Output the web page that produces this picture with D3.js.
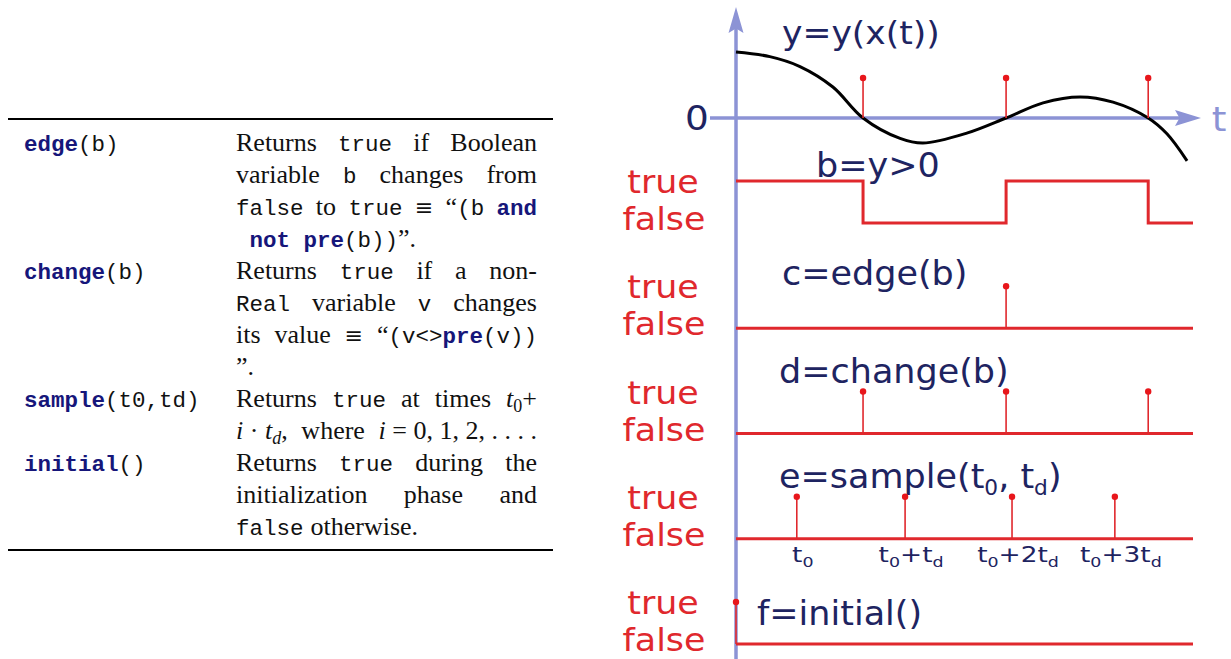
<!DOCTYPE html>
<html>
<head>
<meta charset="utf-8">
<script src="https://cdn.jsdelivr.net/npm/d3@7"></script>
<style>
  body { margin: 0; background: #fff; }
  svg text { white-space: pre; }
</style>
</head>
<body>
<svg id="chart" width="1231" height="659"></svg>
<script>
// ---- data: left table ----
const fnNames = ['@edge@|(b)|', '@change@|(b)|', '@sample@|(t0,td)|', '@initial@|()|'];
const rowFirstLine = [0, 4, 8, 10];
// markup: @kw@  |tt|  $italic$  #symbol#  _x upright sub  %x italic sub  ~ fixed space
const descLines = [
  { text: 'Returns |true| if Boolean', justify: true },
  { text: 'variable |b| changes from', justify: true },
  { text: '|false| to |true| #≡# “|(b| @and@', justify: true },
  { text: '@~not~pre@|(b))|”.', justify: false },
  { text: 'Returns |true| if a non-', justify: true },
  { text: '|Real| variable |v| changes', justify: true },
  { text: 'its value #≡# “|(v<>|@pre@|(v))|', justify: true },
  { text: '”.', justify: false },
  { text: 'Returns |true| at times $t$_0+', justify: true },
  { text: '$i$~·~$t$%d, where $i$~=~0,~1,~2,~.~.~.~.', justify: true },
  { text: 'Returns |true| during the', justify: true },
  { text: 'initialization phase and', justify: true },
  { text: '|false| otherwise.', justify: false },
];

// ---- data: right figure (time runs 0..10) ----
const curveT = [0, 0.74, 1.40, 2.12, 2.78, 3.59, 4.09, 5.05, 5.91, 6.72, 7.53, 8.25, 9.02, 9.43, 9.87];
const curveY = [1.00, 0.93, 0.78, 0.47, 0, -0.31, -0.38, -0.23, 0, 0.23, 0.32, 0.24, 0, -0.24, -0.65];
const crossT = [2.78, 5.91, 9.02];
const bT = [0, 2.78, 5.91, 9.02, 10];
const bV = [1, 0, 1, 0, 0];
const rowNames = ['b', 'c', 'd', 'e', 'f'];
const rowLabels = ['b=y>0', 'c=edge(b)', 'd=change(b)', 'e=sample(t_0, t_d)', 'f=initial()'];
const rowEvents = [[], [5.91], [2.78, 5.91, 9.02], [1.33, 3.70, 6.04, 8.29], [0]];
const sampleT = [1.33, 3.70, 6.04, 8.29];
const sampleLabels = ['t_0', 't_0+t_d', 't_0+2t_d', 't_0+3t_d'];

// ---- styles / layout ----
const navy = '#1e2461';
const red = '#e0282d';
const dotRed = '#e8161b';
const axisBlue = '#8c93d5';
const labelPos = [[816, -4], [782, -1], [779, -9], [779, -9], [757, 23]]; // x, baseline offset from true level

const svg = d3.select('#chart');

/** Left table */
const colLeft = 236;
const colRight = 537;
const fonts = {
  rm: { family: 'Liberation Serif', size: 26, weight: 'normal', style: 'normal', fill: '#111', dy: 0 },
  it: { family: 'Liberation Serif', size: 26, weight: 'normal', style: 'italic', fill: '#111', dy: 0 },
  sym: { family: 'DejaVu Serif', size: 22, weight: 'normal', style: 'normal', fill: '#111', dy: 0 },
  tt: { family: 'Liberation Mono', size: 22.5, weight: 'normal', style: 'normal', fill: '#111', dy: 0 },
  kw: { family: 'Liberation Mono', size: 22.5, weight: 'bold', style: 'normal', fill: '#16167a', dy: 0 },
  sub: { family: 'Liberation Serif', size: 18, weight: 'normal', style: 'normal', fill: '#111', dy: 5 },
  subit: { family: 'Liberation Serif', size: 18, weight: 'normal', style: 'italic', fill: '#111', dy: 5 },
};

const parseWord = (w) => {
  const runs = [];
  const re = /@([^@]*)@|\|([^|]*)\||\$([^$]*)\$|#([^#]*)#|_(.)|%(.)|([^@|$#_%]+)/g;
  let m = re.exec(w);
  while (m !== null) {
    if (m[1] !== undefined) runs.push([m[1], 'kw']);
    else if (m[2] !== undefined) runs.push([m[2], 'tt']);
    else if (m[3] !== undefined) runs.push([m[3], 'it']);
    else if (m[4] !== undefined) runs.push([m[4], 'sym']);
    else if (m[5] !== undefined) runs.push([m[5], 'sub']);
    else if (m[6] !== undefined) runs.push([m[6], 'subit']);
    else runs.push([m[7], 'rm']);
    m = re.exec(w);
  }
  return runs.map(([s, f]) => [s.replace(/~/g, '\u00a0'), f]);
};

const table = svg.append('g').attr('class', 'table');

// places a list of words on one baseline
const placeWords = (words, y, x0, gapFn) => {
  const g = table.append('g');
  const nodes = words.map((runs) => runs.map(([s, f]) => {
    const st = fonts[f];
    const el = g.append('text')
      .attr('y', y + st.dy)
      .attr('font-family', st.family)
      .attr('font-size', st.size)
      .attr('font-weight', st.weight)
      .attr('font-style', st.style)
      .attr('fill', st.fill)
      .text(s);
    return { el, w: el.node().getComputedTextLength() };
  }));
  const wordW = nodes.map((rs) => d3.sum(rs, (r) => r.w));
  const gap = gapFn(d3.sum(wordW), words.length);
  let x = x0;
  nodes.forEach((rs) => {
    rs.forEach((r) => { r.el.attr('x', x); x += r.w; });
    x += gap;
  });
};

const lineY = (i) => 150.5 + i * 32;

descLines.forEach((line, i) => {
  const words = line.text.split(' ').map(parseWord);
  placeWords(words, lineY(i), colLeft, (total, n) => (
    line.justify && n > 1 ? (colRight - colLeft - total) / (n - 1) : 7
  ));
});

fnNames.forEach((name, i) => {
  placeWords([parseWord(name)], lineY(rowFirstLine[i]), 24, () => 0);
});

table.selectAll('line.rule')
  .data([119, 550])
  .enter()
  .append('line')
  .attr('class', 'rule')
  .attr('x1', 8)
  .attr('x2', 553)
  .attr('y1', (d) => d)
  .attr('y2', (d) => d)
  .attr('stroke', '#000')
  .attr('stroke-width', 2);

/** Right figure */
const x = d3.scaleLinear().domain([0, 10]).range([736, 1193]);
const yCurve = d3.scaleLinear().domain([-1, 1]).range([184, 52]);
const row = d3.scalePoint().domain(rowNames).range([223, 644]);
const level = d3.scaleLinear().domain([0, 1]).range([0, -42]);

const fig = svg.append('g').attr('class', 'fig');

// text with '_x' one-character subscripts
const drawLabel = (g, str, px, py, opts) => {
  const t = g.append('text')
    .attr('transform', `translate(${px},${py}) scale(${opts.sx || 1},1)`)
    .attr('font-family', 'DejaVu Sans')
    .attr('font-size', opts.size)
    .attr('fill', opts.color)
    .attr('text-anchor', opts.anchor || 'start');
  const parts = str.split(/(_.)/).filter((p) => p);
  let down = 0;
  parts.forEach((p) => {
    const isSub = p[0] === '_';
    const shift = isSub ? opts.size * 0.22 : 0;
    t.append('tspan')
      .attr('dy', shift - down)
      .attr('font-size', isSub ? opts.size * (opts.sub || 0.62) : opts.size)
      .text(isSub ? p[1] : p);
    down = shift;
  });
};

// axes
const x0 = x(0);
const zeroY = yCurve(0);
fig.append('line')
  .attr('x1', x0).attr('x2', x0)
  .attr('y1', 659).attr('y2', 28)
  .attr('stroke', axisBlue)
  .attr('stroke-width', 3.5);
fig.append('path')
  .attr('d', `M${x0},7 L${x0 + 7.5},33 L${x0},28.5 L${x0 - 7.5},33 Z`)
  .attr('fill', axisBlue);
fig.append('line')
  .attr('x1', 710).attr('x2', 1180)
  .attr('y1', zeroY).attr('y2', zeroY)
  .attr('stroke', axisBlue)
  .attr('stroke-width', 3.5);
fig.append('path')
  .attr('d', `M1201,${zeroY} L1175,${zeroY - 8} L1179.5,${zeroY} L1175,${zeroY + 8} Z`)
  .attr('fill', axisBlue);

drawLabel(fig, '0', 697, 130, { size: 34, color: navy, anchor: 'middle', sx: 1.1 });
drawLabel(fig, 't', 1219, 131, { size: 34, color: axisBlue, anchor: 'middle', sx: 1.1 });
drawLabel(fig, 'y=y(x(t))', 782, 44, { size: 32, color: navy, sx: 1.08 });

// y curve
const curvePts = curveT.map((t, i) => [t, curveY[i]]);
fig.append('path')
  .datum(curvePts)
  .attr('fill', 'none')
  .attr('stroke', '#000')
  .attr('stroke-width', 3)
  .attr('d', d3.line().x((d) => x(d[0])).y((d) => yCurve(d[1])).curve(d3.curveCatmullRom.alpha(0.5)));

// stems with a dot on top
const drawStems = (g, ts, base, top) => {
  g.selectAll(null)
    .data(ts)
    .enter()
    .append('line')
    .attr('x1', (d) => x(d))
    .attr('x2', (d) => x(d))
    .attr('y1', base)
    .attr('y2', top)
    .attr('stroke', red)
    .attr('stroke-width', 1.6);
  g.selectAll(null)
    .data(ts)
    .enter()
    .append('circle')
    .attr('cx', (d) => x(d))
    .attr('cy', top)
    .attr('r', 3.2)
    .attr('fill', dotRed);
};
drawStems(fig, crossT, zeroY, zeroY - 40);

// boolean rows
rowNames.forEach((r, i) => {
  const base = row(r);
  const g = fig.append('g').attr('class', `row-${r}`);
  drawLabel(g, 'true', 663, base + level(1) + 12, { size: 32, color: red, anchor: 'middle', sx: 1.09 });
  drawLabel(g, 'false', 664, base + 7, { size: 32, color: red, anchor: 'middle', sx: 1.09 });
  drawLabel(g, rowLabels[i], labelPos[i][0], base + level(1) + labelPos[i][1], { size: 33, color: navy, sx: 1.06 });

  if (r === 'b') {
    const pts = bT.map((t, k) => [t, bV[k]]);
    g.append('path')
      .datum(pts)
      .attr('fill', 'none')
      .attr('stroke', red)
      .attr('stroke-width', 3)
      .attr('d', d3.line().x((d) => x(d[0])).y((d) => base + level(d[1])).curve(d3.curveStepAfter));
  } else {
    g.append('line')
      .attr('x1', x(0)).attr('x2', x(10))
      .attr('y1', base).attr('y2', base)
      .attr('stroke', red)
      .attr('stroke-width', 3);
    drawStems(g, rowEvents[i], base, base + level(1));
  }
});

// sample tick labels
sampleT.forEach((t, i) => {
  drawLabel(fig, sampleLabels[i], x(t) + 6, row('e') + 23, { size: 22, color: navy, anchor: 'middle', sx: 1.2, sub: 0.66 });
});
</script>
</body>
</html>
